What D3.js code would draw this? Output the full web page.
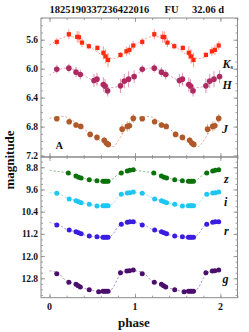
<!DOCTYPE html>
<html><head><meta charset="utf-8">
<script src="https://cdn.jsdelivr.net/npm/d3@7"></script>
<style>body{margin:0;background:#fff}svg{display:block}text{font-family:"Liberation Serif","Times New Roman",serif}</style>
</head><body><svg id="c" width="249" height="332"></svg>
<script>
// ---- data (one phase cycle; drawn at phase and phase+1) ----
const titleParts = ["1825190337236422016", "FU", "32.06 d"];
const topTicks = [5.6, 6.0, 6.4, 6.8, 7.2];
const botTicks = [8.8, 9.6, 10.4, 11.2, 12.0, 12.8];
const xTicks = [0, 1, 2];

const ksPhase = [0.085,0.226,0.324,0.344,0.38,0.46,0.56,0.63,0.656,0.685,0.83,0.90,0.935,0.98];
const ksMag   = [5.63,5.524,5.56,5.565,5.64,5.69,5.713,5.78,5.83,5.88,5.81,5.76,5.74,5.68];
const ksErr   = [0.055,0.07,0.08,0.08,0.06,0.04,0.04,0.09,0.1,0.1,0.04,0.06,0.07,0.06];
const hPhase  = [0.085,0.226,0.31,0.36,0.52,0.555,0.63,0.65,0.68,0.83,0.875,0.925,0.99];
const hMag    = [6.007,5.993,6.048,6.08,6.163,6.145,6.218,6.241,6.306,6.237,6.172,6.145,6.11];
const hErr    = [0.06,0.06,0.07,0.07,0.09,0.09,0.1,0.1,0.08,0.1,0.1,0.11,0.09];
const jPhase  = [0.085,0.23,0.31,0.365,0.475,0.555,0.64,0.665,0.688,0.85,0.91,0.935,0.98];
const jMag    = [6.692,6.734,6.779,6.797,6.908,6.949,6.99,7.028,7.046,6.835,6.797,6.789,6.687];
const jErr    = [0.03,0.03,0.04,0.03,0.04,0.04,0.05,0.05,0.04,0.07,0.07,0.06,0.06];
const zPhase  = [0.22,0.31,0.34,0.37,0.465,0.555,0.625,0.645,0.665,0.685,0.84,0.91,0.94,0.98];
const zMag    = [9.005,9.114,9.16,9.186,9.247,9.283,9.305,9.305,9.305,9.305,9.005,8.933,8.908,8.886];
const iPhase  = [0.085,0.23,0.31,0.34,0.37,0.465,0.555,0.625,0.645,0.665,0.685,0.84,0.91,0.94,0.98];
const iMag    = [9.737,9.942,10.004,10.04,10.076,10.133,10.195,10.184,10.184,10.184,10.184,9.773,9.726,9.715,9.69];
const rPhase  = [0.085,0.23,0.31,0.34,0.37,0.465,0.555,0.625,0.645,0.665,0.685,0.84,0.91,0.94,0.98];
const rMag    = [10.879,11.06,11.12,11.157,11.193,11.276,11.30,11.323,11.323,11.323,11.323,10.854,10.782,10.76,10.76];
const gPhase  = [0.085,0.226,0.31,0.335,0.36,0.465,0.575,0.625,0.645,0.665,0.685,0.83,0.905,0.935,0.98];
const gMag    = [12.634,12.944,13.016,13.067,13.113,13.21,13.29,13.265,13.265,13.265,13.265,12.6,12.54,12.53,12.50];

const fitPhase = [0,0.1,0.2,0.3,0.4,0.5,0.6,0.7,0.75,0.8,0.85,0.9,0.97,1.0];
const ksFit = [5.676,5.60,5.555,5.57,5.63,5.72,5.80,5.85,5.86,5.845,5.81,5.77,5.70,5.676];
const hFit  = [6.09,6.02,5.99,6.02,6.09,6.16,6.23,6.26,6.26,6.245,6.21,6.16,6.11,6.09];
const jFit  = [6.687,6.66,6.67,6.74,6.83,6.92,7.0,7.07,7.075,7.0,6.91,6.82,6.72,6.687];
const zFit  = [8.91,8.95,9.0,9.1,9.2,9.26,9.3,9.29,9.2,9.05,8.97,8.92,8.88,8.91];
const iFit  = [9.715,9.74,9.9,10.0,10.09,10.16,10.2,10.19,10.08,9.88,9.77,9.72,9.69,9.715];
const rFit  = [10.79,10.86,11.04,11.12,11.23,11.29,11.32,11.31,11.18,10.95,10.83,10.77,10.75,10.79];
const gFit  = [12.53,12.61,12.9,13.0,13.15,13.24,13.29,13.27,13.1,12.8,12.6,12.53,12.5,12.53];

// ---- drawing ----
const svg = d3.select("#c");
const x = d3.scaleLinear([-0.1, 2.2], [41, 237.5]);
const yT = d3.scaleLinear([5.3, 7.22], [18, 157]);
const yB = d3.scaleLinear([8.43, 13.5], [157, 297.7]);
const frame = "#8a8a8a";

function rng(a, b, s){ const o=[]; for(let v=a; v<=b+1e-9; v+=s) o.push(+v.toFixed(3)); return o; }

function panel(y, major, minorStep){
  const [d0,d1] = y.domain();
  const minor = rng(Math.ceil(d0/minorStep)*minorStep, d1, minorStep);
  const xMinor = rng(-0.0, 2.2, 0.2);
  const g = svg.append("g");
  const add = (axis, tx, ty) => {
    const a = g.append("g").attr("transform", `translate(${tx},${ty})`).call(axis);
    a.select(".domain").remove();
    a.selectAll("line").attr("stroke", frame).attr("stroke-width", 0.8);
    return a;
  };
  const [r0, r1] = y.range();
  add(d3.axisLeft(y).tickValues(minor).tickSize(-2).tickFormat(""), 41, 0);
  add(d3.axisRight(y).tickValues(minor).tickSize(-2).tickFormat(""), 237.5, 0);
  const L = add(d3.axisLeft(y).tickValues(major).tickSize(-4).tickPadding(3).tickFormat(d3.format(".1f")), 41, 0);
  L.selectAll("text").attr("font-size", 9.5).attr("font-weight", "bold").attr("fill", "#111").attr("font-family", "Liberation Serif");
  add(d3.axisRight(y).tickValues(major).tickSize(-4).tickFormat(""), 237.5, 0);
  add(d3.axisBottom(x).tickValues(xMinor).tickSize(-2).tickFormat(""), 0, r1);
  add(d3.axisTop(x).tickValues(xMinor).tickSize(-2).tickFormat(""), 0, r0);
  add(d3.axisBottom(x).tickValues(xTicks).tickSize(-4).tickFormat(""), 0, r1);
  add(d3.axisTop(x).tickValues(xTicks).tickSize(-4).tickFormat(""), 0, r0);
  g.append("rect").attr("x", 41).attr("y", r0).attr("width", 196.5).attr("height", r1 - r0)
    .attr("fill", "none").attr("stroke", frame).attr("stroke-width", 1);
}
panel(yT, topTicks, 0.1);
panel(yB, botTicks, 0.2);

// x tick labels
svg.append("g").selectAll("text").data(xTicks).join("text")
  .attr("x", d => x(d)).attr("y", 310).attr("text-anchor", "middle")
  .attr("font-size", 10).attr("font-weight", "bold").attr("fill", "#111").text(d => d);

function series(y, ph, mg, er, fit, color, fitColor, r, shape){
  const lineG = d3.line().x(d => x(d[0])).y(d => y(d[1])).curve(d3.curveCatmullRom);
  for (const off of [0, 1]) {
    const pts = fitPhase.map((p, i) => [p + off, fit[i]]);
    svg.append("path").attr("d", lineG(pts)).attr("fill", "none")
      .attr("stroke", fitColor).attr("stroke-width", 0.8).attr("stroke-dasharray", "2.2,1.8");
  }
  const data = [];
  for (const off of [0, 1]) ph.forEach((p, i) => data.push({p: p + off, m: mg[i], e: er ? er[i] : 0}));
  const g = svg.append("g");
  if (er) {
    g.selectAll("line").data(data).join("line")
      .attr("x1", d => x(d.p)).attr("x2", d => x(d.p))
      .attr("y1", d => y(d.m - d.e)).attr("y2", d => y(d.m + d.e))
      .attr("stroke", color).attr("stroke-opacity", 0.45).attr("stroke-width", 1.1);
  }
  if (shape === "sq") {
    g.selectAll("rect").data(data).join("rect")
      .attr("x", d => x(d.p) - r).attr("y", d => y(d.m) - r).attr("width", 2*r).attr("height", 2*r)
      .attr("fill", color);
  } else {
    g.selectAll("circle").data(data).join("circle")
      .attr("cx", d => x(d.p)).attr("cy", d => y(d.m)).attr("r", r).attr("fill", color);
  }
}
series(yT, ksPhase, ksMag, ksErr, ksFit, "#ff2a10", "#ff8a7a", 2.1, "sq");
series(yT, hPhase, hMag, hErr, hFit, "#b02a62", "#d58aa8", 2.8);
series(yT, jPhase, jMag, jErr, jFit, "#b05a2c", "#d6a080", 2.8);
series(yB, zPhase, zMag, null, zFit, "#0b720b", "#6cb06c", 2.5);
series(yB, iPhase, iMag, null, iFit, "#1ec6f2", "#7adcf6", 2.5);
series(yB, rPhase, rMag, null, rFit, "#3a1ee0", "#8e80ee", 2.5);
series(yB, gPhase, gMag, null, gFit, "#4a0e6c", "#9a72b0", 2.5);

// band labels
const lab = (t, xx, yy, it=true, fs=12) => svg.append("text").attr("x", xx).attr("y", yy)
  .attr("font-size", fs).attr("font-weight", "bold").attr("font-style", it ? "italic" : "normal")
  .attr("fill", "#111").text(t);
const ks = lab("K", 222.5, 67.5);
ks.append("tspan").attr("font-size", 7).attr("dy", 1.5).text("s");
lab("H", 222.5, 88.5);
lab("J", 222, 133);
lab("z", 224, 183);
lab("i", 224, 205.5);
lab("r", 224, 235);
lab("g", 222.5, 283);
lab("A", 55.5, 148.5, false, 10.5);

// title
[[titleParts[0], 49.5], [titleParts[1], 164.5], [titleParts[2], 192]].forEach(([t, xx]) =>
  svg.append("text").attr("x", xx).attr("y", 13).attr("font-size", 10.5).attr("font-weight", "bold")
    .attr("fill", "#111").text(t));

// axis titles
svg.append("text").attr("transform", "translate(14,160) rotate(-90)").attr("text-anchor", "middle")
  .attr("font-size", 13).attr("font-weight", "bold").attr("fill", "#111").text("magnitude");
svg.append("text").attr("x", 134).attr("y", 327).attr("text-anchor", "middle")
  .attr("font-size", 13).attr("font-weight", "bold").attr("fill", "#111").text("phase");
</script></body></html>
